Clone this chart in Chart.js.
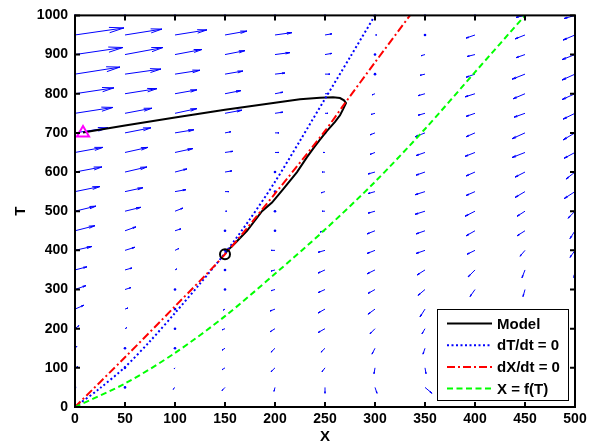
<!DOCTYPE html>
<html>
<head>
<meta charset="utf-8">
<script src="https://cdn.jsdelivr.net/npm/chart.js@4.4.1/dist/chart.umd.min.js"></script>
<style>
    html, body { margin: 0; padding: 0; background: #fff; }
    #wrap { width: 594px; height: 446px; }
</style>
</head>
<body>
<div id="wrap"><canvas id="chart" width="594" height="446"></canvas></div>
<script>
// Axis ranges / ticks
const xRange = [0, 500];
const tRange = [0, 1000];
const xStep = 50;
const tStep = 100;

// Curves (X, T)
const modelX = [8, 50, 100, 150, 200, 225, 245, 258, 265, 269, 271, 268, 265, 260, 252, 245, 240, 232, 222, 208, 197, 187, 172, 160, 152, 150];
const modelT = [701, 719, 739, 759, 777, 786, 790, 791, 789, 783, 776, 760, 745, 728, 705, 683, 666, 638, 600, 556, 522, 500, 450, 418, 398, 391];

const dTdtX = [0, 25, 50, 75, 100, 125, 150, 175, 200, 225, 250, 275, 300];
const dTdtT = [0, 48, 102, 168, 240, 315, 393, 480, 575, 680, 787, 893, 1000];

const dXdtX = [0, 50, 100, 150, 200, 250, 270, 300, 335];
const dXdtT = [0, 127, 257, 390, 545, 705, 776, 880, 1000];

const fTX = [0, 50, 100, 150, 200, 250, 300, 350, 400, 450];
const fTT = [0, 60, 138, 232, 340, 453, 575, 710, 855, 1000];

const startPoint = [8, 700];
const steadyPoint = [150, 390];

// Direction field grid and arrow components (data units, null = hidden by legend)
const gridX = [0, 50, 100, 150, 200, 250, 300, 350, 400, 450, 500];
const gridT = [1000, 950, 900, 850, 800, 750, 700, 650, 600, 550, 500, 450, 400, 350, 300, 250, 200, 150, 100, 50, 0];

const quiverU = [
    [0, 0, 0, 0, 0, 0, 0, 0, 0, -9, -11],
    [49, 37, 32, 22, 17, 7, 2, -1, -9, -10, -12],
    [48, 38, 27, 20, 15, 7, 0, -4, -8, -9, -13],
    [45, 36, 25, 18, 10, 5, -1, -5, -9, -13, -13],
    [39, 32, 22, 16, 8, 3, -3, -7, -10, -12, -13],
    [38, 27, 22, 17, 8, 3, -4, -7, -9, -11, -12],
    [33, 26, 19, 6, 4, 0, -5, -10, -9, -13, -12],
    [28, 23, 18, 8, 4, -2, -5, -9, -10, -13, -11],
    [27, 22, 12, 7, 0, -3, -7, -9, -9, -10, -9],
    [25, 18, 11, 4, 0, -4, -7, -10, -9, -10, -11],
    [21, 16, 8, 2, 0, -3, -7, -10, -10, -8, -7],
    [20, 11, 6, 0, 0, -5, -8, -9, -9, -8, -5],
    [17, 10, 4, 0, -4, -7, -8, -9, -8, -5, -5],
    [12, 7, 2, 0, -4, -7, -8, -8, -7, -3, -1],
    [11, 6, 1, 0, -4, -7, -7, -7, -5, -2, 0],
    [9, 3, 0, -2, -5, -7, -7, -5, null, null, 0],
    [4, 2, 0, -3, -5, -7, -5, -3, null, null, 0],
    [2, 0, 0, -3, -4, -4, -3, -2, null, null, 0],
    [3, 0, -1, -3, -4, -3, -1, 1, null, null, 0],
    [0, 0, -2, -3, -1, 0, 2, 7, null, null, 0],
    [0, 0, 0, 0, 0, 0, 0, 0, 0, 0, 0]
];
const quiverV = [
    [0, 0, 0, 0, 0, 0, 0, 0, 0, -5, -8],
    [18, 15, 13, 10, 6, 3, 0, 0, -8, -10, -13],
    [18, 18, 13, 10, 5, 3, 0, -3, -5, -8, -13],
    [18, 13, 10, 8, 3, 0, 0, -3, -8, -13, -15],
    [15, 13, 10, 8, 4, 0, -3, -5, -8, -13, -15],
    [15, 13, 12, 8, 3, 0, -3, -5, -8, -10, -15],
    [13, 13, 8, 3, 0, 0, -5, -10, -10, -15, -18],
    [13, 13, 10, 3, 0, 0, -5, -8, -10, -13, -15],
    [13, 13, 8, 3, 0, 0, -5, -8, -10, -13, -18],
    [13, 10, 5, 0, 0, -3, -5, -8, -10, -15, -18],
    [13, 10, 8, 0, 0, 0, -5, -8, -13, -13, -18],
    [13, 10, 5, 0, 0, -3, -8, -8, -13, -13, -20],
    [10, 8, 5, 0, 0, -5, -8, -8, -10, -15, -18],
    [8, 5, 3, 0, -3, -8, -10, -13, -18, -20, -20],
    [10, 5, 0, 0, -3, -8, -10, -15, -18, -18, -20],
    [10, 3, 0, -3, -5, -10, -13, -20, null, null, -18],
    [8, 3, 0, -3, -8, -10, -13, -13, null, null, -15],
    [5, 0, 0, -5, -10, -10, -15, -15, null, null, -13],
    [3, 0, -3, -5, -10, -10, -15, -15, null, null, -10],
    [0, 0, -5, -8, -10, -15, -15, -15, null, null, -8],
    [0, 0, 0, 0, 0, 0, 0, 0, 0, 0, 0]
];

const FONT = "'Liberation Sans', Arial, Helvetica, sans-serif";

const toPoints = (xs, ys) => xs.map((v, i) => ({ x: v, y: ys[i] }));

// Quiver field under the curves
const quiverPlugin = {
    id: 'quiver',
    beforeDatasetsDraw(chart) {
        const { ctx, chartArea: a, scales: { x, y } } = chart;
        ctx.save();
        ctx.beginPath();
        ctx.rect(a.left - 1, a.top - 1, a.right - a.left + 2, a.bottom - a.top + 2);
        ctx.clip();
        ctx.strokeStyle = '#0000ff';
        ctx.fillStyle = '#0000ff';
        ctx.lineWidth = 1;
        gridT.forEach((t, i) => {
            gridX.forEach((xv, j) => {
                const u = quiverU[i][j], v = quiverV[i][j];
                if (u === null || v === null) return;
                const x0 = x.getPixelForValue(xv), y0 = y.getPixelForValue(t);
                const x1 = x.getPixelForValue(xv + u), y1 = y.getPixelForValue(t + v);
                const du = x1 - x0, dv = y1 - y0;
                if (Math.hypot(du, dv) < 1.5) {
                    ctx.beginPath();
                    ctx.arc(x0, y0, 1.3, 0, Math.PI * 2);
                    ctx.fill();
                    return;
                }
                const al = 0.3, be = 0.18;
                ctx.beginPath();
                ctx.moveTo(x0, y0);
                ctx.lineTo(x1, y1);
                ctx.moveTo(x1 - al * (du + be * dv), y1 - al * (dv - be * du));
                ctx.lineTo(x1, y1);
                ctx.lineTo(x1 - al * (du - be * dv), y1 - al * (dv + be * du));
                ctx.stroke();
            });
        });
        ctx.restore();
    }
};

// MATLAB style box with inward ticks, and the boxed legend
const framePlugin = {
    id: 'frame',
    afterDraw(chart) {
        const { ctx, chartArea: a, scales: { x, y } } = chart;
        ctx.save();
        ctx.strokeStyle = '#000';
        ctx.lineWidth = 2;
        ctx.strokeRect(a.left, a.top, a.right - a.left, a.bottom - a.top);
        ctx.beginPath();
        x.ticks.forEach(tk => {
            const px = x.getPixelForValue(tk.value);
            ctx.moveTo(px, a.bottom); ctx.lineTo(px, a.bottom - 5);
            ctx.moveTo(px, a.top); ctx.lineTo(px, a.top + 5);
        });
        y.ticks.forEach(tk => {
            const py = y.getPixelForValue(tk.value);
            ctx.moveTo(a.left, py); ctx.lineTo(a.left + 5, py);
            ctx.moveTo(a.right, py); ctx.lineTo(a.right - 5, py);
        });
        ctx.stroke();

        // legend
        const items = chart.data.datasets.filter(d => d.label);
        const bw = 131, bh = 91;
        const bx = a.right - 7 - bw, by = a.bottom - 7 - bh;
        ctx.fillStyle = '#fff';
        ctx.fillRect(bx, by, bw, bh);
        ctx.lineWidth = 1;
        ctx.strokeStyle = '#000';
        ctx.strokeRect(bx + 0.5, by + 0.5, bw, bh);
        ctx.font = 'bold 15px ' + FONT;
        ctx.textBaseline = 'middle';
        ctx.textAlign = 'left';
        items.forEach((d, i) => {
            const ly = by + 14.5 + i * 21.7;
            ctx.beginPath();
            ctx.setLineDash(d.borderDash || []);
            ctx.strokeStyle = d.borderColor;
            ctx.lineWidth = 2;
            ctx.moveTo(bx + 10, ly);
            ctx.lineTo(bx + 55, ly);
            ctx.stroke();
            ctx.setLineDash([]);
            ctx.fillStyle = '#000';
            ctx.fillText(d.label, bx + 60, ly + 1);
        });
        ctx.restore();
    }
};

new Chart(document.getElementById('chart'), {
    type: 'scatter',
    data: {
        datasets: [
            {
                label: 'Model',
                data: toPoints(modelX, modelT),
                showLine: true, borderColor: '#000000', borderWidth: 2,
                pointRadius: 0, tension: 0, order: 6
            },
            {
                label: 'dT/dt = 0',
                data: toPoints(dTdtX, dTdtT),
                showLine: true, borderColor: '#0000ff', borderWidth: 2, borderDash: [2, 2.5],
                pointRadius: 0, tension: 0.3, order: 5
            },
            {
                label: 'dX/dt = 0',
                data: toPoints(dXdtX, dXdtT),
                showLine: true, borderColor: '#ff0000', borderWidth: 2, borderDash: [8, 3, 2, 3],
                pointRadius: 0, tension: 0.3, order: 4
            },
            {
                label: 'X = f(T)',
                data: toPoints(fTX, fTT),
                showLine: true, borderColor: '#00ff00', borderWidth: 2, borderDash: [6, 3.5],
                pointRadius: 0, tension: 0.3, order: 3
            },
            {
                data: [{ x: startPoint[0], y: startPoint[1] }],
                pointStyle: 'triangle', pointRadius: 7, borderWidth: 2,
                borderColor: '#ff00ff', backgroundColor: 'rgba(0,0,0,0)', order: 2
            },
            {
                data: [{ x: steadyPoint[0], y: steadyPoint[1] }],
                pointStyle: 'circle', pointRadius: 5, borderWidth: 2,
                borderColor: '#000000', backgroundColor: 'rgba(0,0,0,0)', order: 1
            }
        ]
    },
    options: {
        responsive: false,
        animation: false,
        layout: { padding: { top: 13, right: 19, left: 0, bottom: 0 } },
        plugins: { legend: { display: false }, tooltip: { enabled: false } },
        scales: {
            x: {
                type: 'linear', min: xRange[0], max: xRange[1],
                grid: { display: false, drawTicks: false },
                border: { display: false },
                ticks: { stepSize: xStep, padding: 4, color: '#000', font: { family: FONT, size: 14, weight: 'bold' }, maxRotation: 0, callback: v => String(v) },
                title: { display: true, text: 'X', color: '#000', padding: 0, font: { family: FONT, size: 15, weight: 'bold' } },
                afterFit: s => { s.height = 39; }
            },
            y: {
                type: 'linear', min: tRange[0], max: tRange[1],
                grid: { display: false, drawTicks: false },
                border: { display: false },
                ticks: { stepSize: tStep, padding: 7, color: '#000', font: { family: FONT, size: 14, weight: 'bold' }, callback: v => String(v) },
                title: { display: true, text: 'T', color: '#000', padding: { top: 12, bottom: 0 }, font: { family: FONT, size: 15, weight: 'bold' } },
                afterFit: s => { s.width = 75; }
            }
        }
    },
    plugins: [quiverPlugin, framePlugin]
});
</script>
</body>
</html>
